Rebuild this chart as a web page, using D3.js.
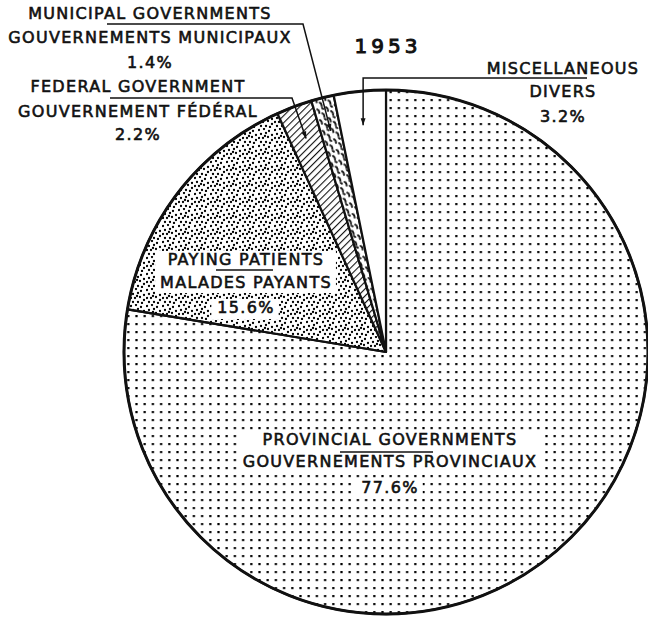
<!DOCTYPE html>
<html>
<head>
<meta charset="utf-8">
<script src="https://cdn.jsdelivr.net/npm/d3@7"></script>
<style>
body{margin:0;background:#fff;}
#pie{width:648px;height:617px;}
text{font-family:"DejaVu Sans",sans-serif;fill:#111;stroke:#111;stroke-width:0.6px;}
</style>
</head>
<body>
<div id="pie"></div>
<script>
(function(){

// data
const year = "1953";
const sources = ["Provincial","Paying patients","Federal","Municipal","Miscellaneous"];
const shares = [77.6, 15.6, 2.2, 1.4, 3.2];
const labelsEn = ["PROVINCIAL GOVERNMENTS","PAYING PATIENTS","FEDERAL GOVERNMENT","MUNICIPAL GOVERNMENTS","MISCELLANEOUS"];
const labelsFr = ["GOUVERNEMENTS PROVINCIAUX","MALADES PAYANTS","GOUVERNEMENT FÉDÉRAL","GOUVERNEMENTS MUNICIPAUX","DIVERS"];
const pctLabels = ["77.6%","15.6%","2.2%","1.4%","3.2%"];

const width = 648;
const height = 617;
const radius = 262;
const cx = 386, cy = 352;

const data = sources.map((s,i)=>({source:s, value:shares[i], en:labelsEn[i], fr:labelsFr[i], pct:pctLabels[i]}));

const svg = d3.select("#pie")
.append("svg")
.attr("width",width)
.attr("height",height)
.attr("viewBox",`0 0 ${width} ${height}`);

// -------------------
// PATTERNS
// -------------------
const defs = svg.append("defs");

const grid = defs.append("pattern")
.attr("id","p-grid")
.attr("patternUnits","userSpaceOnUse")
.attr("x",cx).attr("y",cy)
.attr("width",8.2).attr("height",8);
grid.append("rect").attr("x",3).attr("y",3).attr("width",2.2).attr("height",2.2).attr("fill","#000");

const stip = defs.append("pattern")
.attr("id","p-stip")
.attr("patternUnits","userSpaceOnUse")
.attr("width",16).attr("height",16);
[[1,2],[6,1],[11,3],[14,7],[3,6],[8,5],[1,10],[5,10],[10,9],[14,12],[3,14],[8,14],[12,15],[7,8]]
.forEach(p=>stip.append("circle").attr("cx",p[0]).attr("cy",p[1]).attr("r",1.15).attr("fill","#000"));

const hatch = defs.append("pattern")
.attr("id","p-hatch")
.attr("patternUnits","userSpaceOnUse")
.attr("width",5).attr("height",5)
.attr("patternTransform","rotate(45)");
hatch.append("rect").attr("width",5).attr("height",5).attr("fill","#fff");
hatch.append("line").attr("x1",0).attr("y1",0).attr("x2",0).attr("y2",5)
.attr("stroke","#111").attr("stroke-width",2.2);

const squig = defs.append("pattern")
.attr("id","p-squig")
.attr("patternUnits","userSpaceOnUse")
.attr("width",9).attr("height",11)
.attr("patternTransform","rotate(-14)");
squig.append("rect").attr("width",9).attr("height",11).attr("fill","#fff");
squig.append("path").attr("d","M1,1 q2,2 1,4 M5,6 q2,2 1,4 M6,1 l1,1")
.attr("fill","none").attr("stroke","#111").attr("stroke-width",1.8).attr("stroke-linecap","round");

defs.append("marker")
.attr("id","arrow")
.attr("viewBox","0 0 10 10")
.attr("refX",10).attr("refY",5)
.attr("markerWidth",14).attr("markerHeight",7)
.attr("markerUnits","userSpaceOnUse")
.attr("orient","auto")
.append("path").attr("d","M0,1.5 L10,5 L0,8.5 Z").attr("fill","#111");

const fills = {
"Provincial":"url(#p-grid)",
"Paying patients":"url(#p-stip)",
"Federal":"url(#p-hatch)",
"Municipal":"url(#p-squig)",
"Miscellaneous":"#fff"
};

// -------------------
// SLICES
// -------------------
const pie = d3.pie()
.sort(null)
.value(d=>d.value);

const arc = d3.arc()
.innerRadius(0)
.outerRadius(radius);

const arcs = pie(data);

const g = svg.append("g")
.attr("transform",`translate(${cx},${cy})`);

g.selectAll("path.slice")
.data(arcs)
.enter()
.append("path")
.attr("class","slice")
.attr("d",arc)
.attr("fill",d=>fills[d.data.source])
.attr("stroke","#111")
.attr("stroke-width",2.2)
.attr("stroke-linejoin","round");

g.append("circle")
.attr("r",radius)
.attr("fill","none")
.attr("stroke","#111")
.attr("stroke-width",3);

// -------------------
// LABELS
// -------------------
const labelPos = {
"Provincial":{x:390, y:[445,467,493], ul:[340,433,452]},
"Paying patients":{x:246, y:[265,288,313], ul:[216,273,270]},
"Federal":{x:138, y:[92,117,140]},
"Municipal":{x:150, y:[19,43,68]},
"Miscellaneous":{x:563, y:[74,97,122]}
};

const labels = svg.append("g");

data.forEach(d=>{
const p = labelPos[d.source];
const lines = [d.en,d.fr,d.pct];
const masked = d.source=="Provincial" || d.source=="Paying patients";
const boxes = lines.map((t,i)=>{
const txt = labels.append("text")
.attr("x",p.x)
.attr("y",p.y[i])
.attr("text-anchor","middle")
.style("font-size","16px")
.style("letter-spacing","1.3px")
.text(t);
return txt.node().getBBox();
});
if(masked){
// white patch behind the two name lines, and a smaller one behind the percent
const x0 = Math.min(boxes[0].x,boxes[1].x)-5;
const x1 = Math.max(boxes[0].x+boxes[0].width,boxes[1].x+boxes[1].width)+4;
labels.insert("rect","text")
.attr("x",x0).attr("y",boxes[0].y+1)
.attr("width",x1-x0).attr("height",boxes[1].y+boxes[1].height-boxes[0].y)
.attr("fill","#fff");
labels.insert("rect","text")
.attr("x",boxes[2].x-6).attr("y",boxes[2].y+1)
.attr("width",boxes[2].width+10).attr("height",boxes[2].height+1)
.attr("fill","#fff");
}
if(p.ul){
labels.append("line")
.attr("x1",p.ul[0]).attr("x2",p.ul[1])
.attr("y1",p.ul[2]).attr("y2",p.ul[2])
.attr("stroke","#111").attr("stroke-width",1.5);
}
});

svg.append("text")
.attr("x",388)
.attr("y",53)
.attr("text-anchor","middle")
.style("font-size","20px")
.style("stroke-width","1px")
.style("letter-spacing","4px")
.text(year);

// -------------------
// LEADERS
// -------------------
const tipArc = d3.arc()
.innerRadius(radius*0.87)
.outerRadius(radius*0.87);

const tip = src=>{
const a = arcs.find(d=>d.data.source==src);
const c = tipArc.centroid(a);
return [cx+c[0], cy+c[1]];
};

const leaders = [
{src:"Municipal", pts:[[107,24],[303,24]]},
{src:"Federal", pts:[[110,98],[292,98]]},
{src:"Miscellaneous", pts:[[587,78],null]}
];

leaders.forEach(l=>{
const t = tip(l.src);
const pts = l.pts.map(p=>p || [t[0],l.pts[0][1]]);
pts.push(t);
svg.append("path")
.attr("d",d3.line()(pts))
.attr("fill","none")
.attr("stroke","#111")
.attr("stroke-width",1.5)
.attr("marker-end","url(#arrow)");
});

})();
</script>
</body>
</html>
